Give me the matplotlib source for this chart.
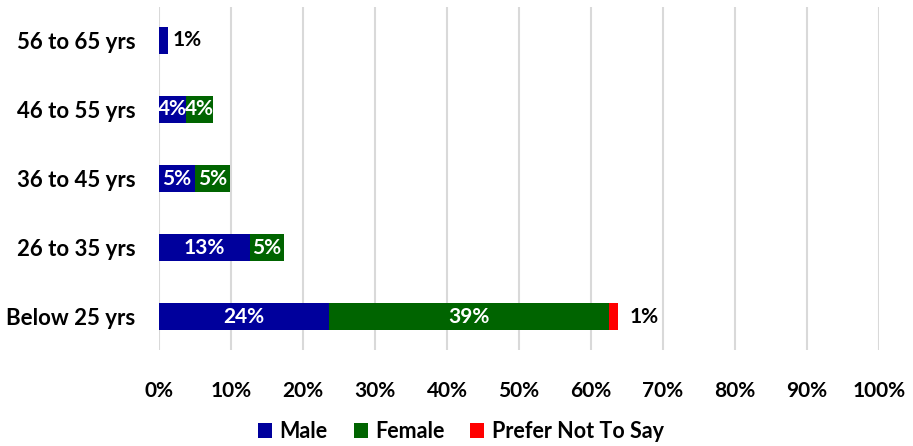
import matplotlib
matplotlib.use("Agg")
import matplotlib.pyplot as plt
from matplotlib.patches import Patch

# Age groups, bottom to top
age_groups = ["Below 25 yrs", "26 to 35 yrs", "36 to 45 yrs", "46 to 55 yrs", "56 to 65 yrs"]
male = [23.6, 12.6, 5.0, 3.8, 1.2]
female = [38.9, 4.8, 4.9, 3.7, 0.0]
prefer_not = [1.2, 0.0, 0.0, 0.0, 0.0]
series_names = ["Male", "Female", "Prefer Not To Say"]
series_colors = ["#00009C", "#006400", "#FF0000"]
x_ticks = [0, 10, 20, 30, 40, 50, 60, 70, 80, 90, 100]

plt.rcParams["font.family"] = ["Lato", "DejaVu Sans"]
plt.rcParams["font.weight"] = "bold"

fig = plt.figure(figsize=(9.13, 4.46), dpi=100)
ax = fig.add_axes([0.1742, 0.2152, 0.7886, 0.7691])

ypos = list(range(len(age_groups)))
bar_h = 0.39
left = [0.0] * len(age_groups)
for name, vals, color in zip(series_names, [male, female, prefer_not], series_colors):
    ax.barh(ypos, vals, height=bar_h, left=left, color=color, zorder=3)
    for y, v, l in zip(ypos, vals, left):
        if v <= 0:
            continue
        label = f"{round(v):.0f}%"
        if v >= 2.5:
            ax.text(l + v / 2, y, label, ha="center", va="center",
                    color="white", fontsize=15, fontweight="bold", zorder=4)
        else:
            ax.annotate(label, (l + v, y), xytext=(3.5 if name == "Male" else 8.5, 0),
                        textcoords="offset points", ha="left", va="center",
                        color="black", fontsize=15, fontweight="bold", zorder=4)
    left = [a + b for a, b in zip(left, vals)]

ax.set_xlim(0, 100)
ax.set_ylim(-0.48, 4.48)
ax.set_xticks(x_ticks)
ax.set_xticklabels([f"{t}%" for t in x_ticks], fontsize=15, fontweight="bold")
ax.set_yticks(ypos)
ax.set_yticklabels(age_groups, fontsize=16, fontweight="bold")
ax.tick_params(axis="both", length=0)
ax.tick_params(axis="y", pad=17)
ax.tick_params(axis="x", pad=22)
ax.grid(axis="x", color="#D9D9D9", linewidth=1.5, zorder=0)
for s in ax.spines.values():
    s.set_visible(False)

handles = [Patch(facecolor=c, edgecolor="none") for c in series_colors]
fig.legend(handles, series_names, loc="center", bbox_to_anchor=(0.505, 0.032), ncol=3,
           frameon=False, handlelength=0.65, handleheight=0.7,
           handletextpad=0.35, columnspacing=1.2, prop={"weight": "bold", "size": 15.5})

fig.savefig("out.png", dpi=100)
